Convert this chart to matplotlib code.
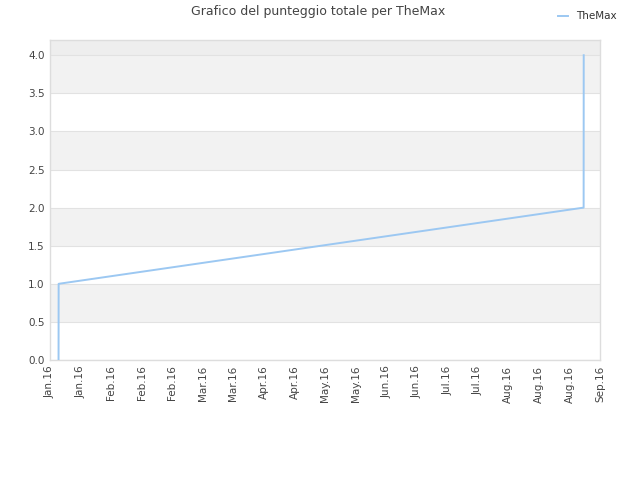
import matplotlib
matplotlib.use("Agg")
import matplotlib.pyplot as plt
import matplotlib.dates as mdates
import numpy as np
from datetime import datetime, timedelta

# Data
dates = [datetime(2016, 1, 7, 22), datetime(2016, 1, 7, 23),
         datetime(2016, 9, 4, 12), datetime(2016, 9, 4, 13)]
scores = [0.0, 1.0, 2.0, 4.0]
series_name = "TheMax"
title = "Grafico del punteggio totale per TheMax"
x_start = datetime(2016, 1, 4)
n_ticks = 19
tick_step_days = 14
y_ticks = [0.0, 0.5, 1.0, 1.5, 2.0, 2.5, 3.0, 3.5, 4.0]

fig = plt.figure(figsize=(6.4, 4.8), dpi=100)
ax = fig.add_axes([50/640, 120/480, 550/640, 320/480])

x_end = x_start + timedelta(days=tick_step_days * (n_ticks - 1))
ax.set_xlim(x_start, x_end)
ax.set_ylim(0, 4.2)

# background bands
for i, y0 in enumerate(y_ticks):
    y1 = min(y0 + 0.5, 4.2)
    if y0 >= 4.0:
        col = "#eeeeee"
    elif i % 2 == 1:
        col = "#f2f2f2"
    else:
        col = "#ffffff"
    ax.axhspan(y0, y1, color=col, zorder=0, lw=0)
for y in y_ticks:
    ax.axhline(y, color="#e2e2e2", lw=0.8, zorder=1)

ax.plot(dates, scores, color="#9cc8f2", lw=1.4, zorder=3, label=series_name)

ticks = [x_start + timedelta(days=tick_step_days * k) for k in range(n_ticks)]
ax.set_xticks(ticks)
ax.set_xticklabels([t.strftime("%b.%y") for t in ticks], rotation=90,
                   fontsize=7.5, color="#444444")
ax.set_yticks(y_ticks)
ax.set_yticklabels([f"{v:.1f}" for v in y_ticks], fontsize=7.5, color="#444444")
ax.tick_params(length=0, pad=4)

for s in ax.spines.values():
    s.set_color("#dddddd")
    s.set_linewidth(1.0)

fig.text(318/640, 1 - 12/480, title, ha="center", va="center",
         fontsize=9, color="#444444")
fig.legend(loc="upper right", bbox_to_anchor=(626/640, 1 - 2/480),
           frameon=False, fontsize=7.5, handlelength=0.9, handletextpad=0.8,
           labelcolor="#333333")

fig.savefig("out.png", dpi=100)
